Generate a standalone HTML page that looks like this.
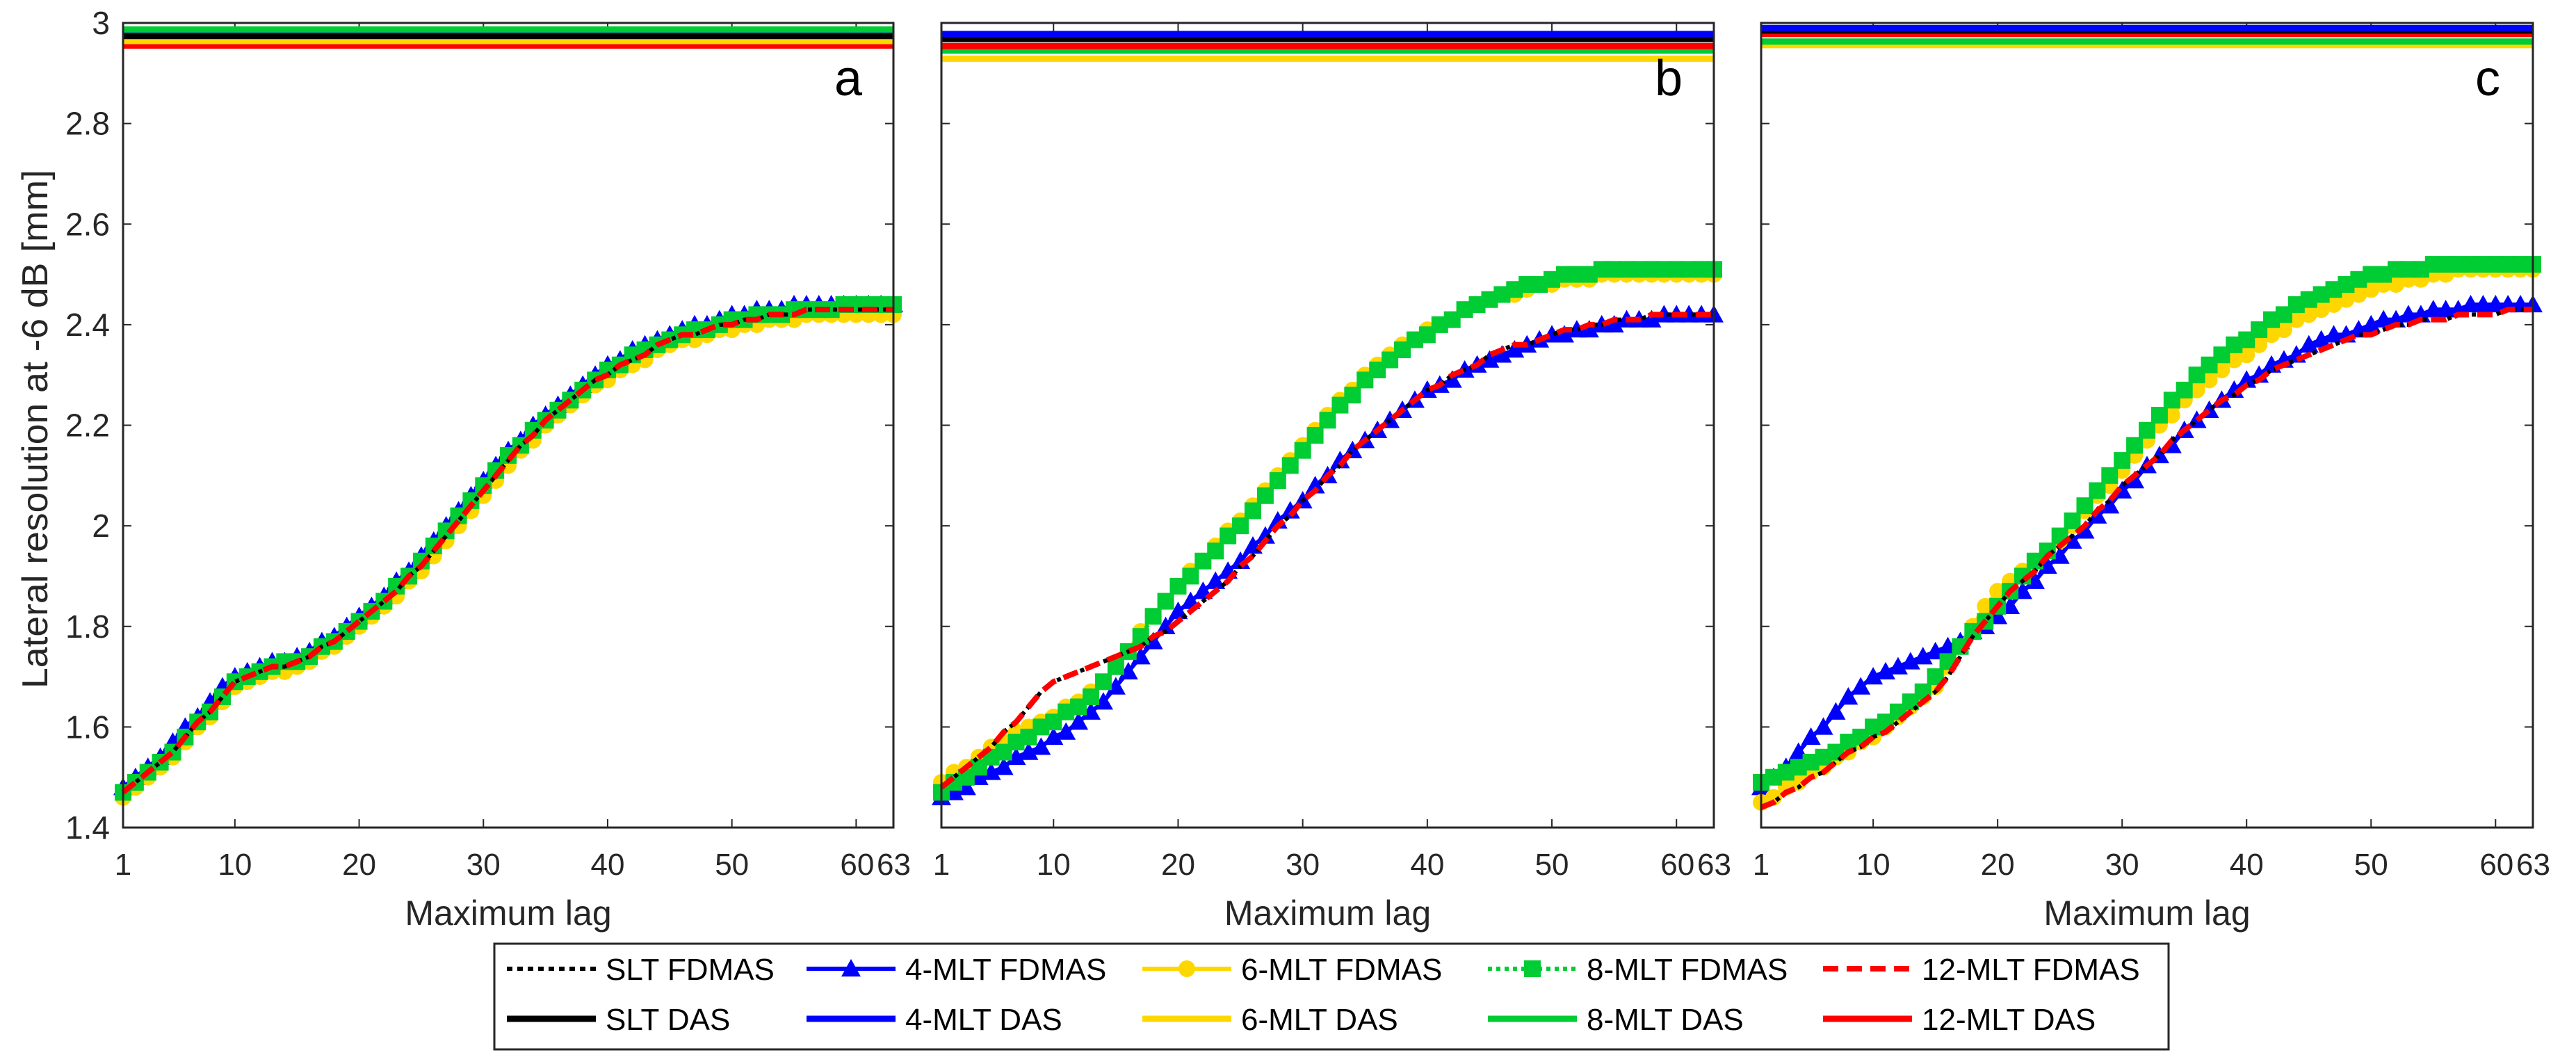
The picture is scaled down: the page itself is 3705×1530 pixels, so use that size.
<!DOCTYPE html>
<html><head><meta charset="utf-8">
<style>
html,body{margin:0;padding:0;background:#fff;}
svg{display:block;font-family:"Liberation Sans",sans-serif;}
</style></head>
<body>
<svg id="chart" width="3705" height="1530" viewBox="0 0 3705 1530" xmlns="http://www.w3.org/2000/svg">
<rect width="3705" height="1530" fill="#fff"/>
<g id="panels"></g>
<text transform="translate(68,617) rotate(-90)" text-anchor="middle" font-size="52" fill="#262626" textLength="746" lengthAdjust="spacingAndGlyphs">Lateral resolution at -6 dB [mm]</text>
<g id="legend"></g>
</svg>
<script>
const lags = Array.from({length:63},(_,i)=>i+1);
const yTicks = [1.4,1.6,1.8,2,2.2,2.4,2.6,2.8,3];
const yTickLabels = ["1.4","1.6","1.8","2","2.2","2.4","2.6","2.8","3"];
const xTicks = [1,10,20,30,40,50,60,63];
const xTickLabels = ["1","10","20","30","40","50","60","63"];
const panelLetters = ["a","b","c"];

// Panel a
const aBlack = [1.47,1.49,1.51,1.53,1.55,1.58,1.61,1.63,1.66,1.69,1.70,1.71,1.72,1.72,1.73,1.74,1.76,1.77,1.79,1.81,1.83,1.85,1.87,1.90,1.92,1.95,1.98,2.01,2.04,2.07,2.10,2.13,2.16,2.18,2.21,2.23,2.25,2.27,2.29,2.30,2.32,2.33,2.34,2.36,2.37,2.38,2.38,2.39,2.40,2.40,2.41,2.41,2.42,2.42,2.42,2.43,2.43,2.43,2.43,2.43,2.43,2.43,2.43];
const aRed = [1.47,1.49,1.51,1.53,1.55,1.58,1.61,1.63,1.66,1.69,1.70,1.71,1.72,1.72,1.73,1.74,1.76,1.77,1.79,1.81,1.83,1.85,1.87,1.90,1.92,1.95,1.98,2.01,2.04,2.07,2.10,2.13,2.16,2.18,2.21,2.23,2.25,2.27,2.29,2.30,2.32,2.33,2.34,2.36,2.37,2.38,2.38,2.39,2.40,2.40,2.41,2.41,2.42,2.42,2.42,2.43,2.43,2.43,2.43,2.43,2.43,2.43,2.43];
const aBlue = [1.48,1.50,1.52,1.54,1.57,1.60,1.62,1.65,1.68,1.70,1.71,1.72,1.73,1.73,1.74,1.75,1.77,1.78,1.80,1.82,1.84,1.86,1.89,1.91,1.94,1.97,2.00,2.03,2.06,2.09,2.12,2.15,2.17,2.20,2.22,2.24,2.26,2.28,2.30,2.32,2.33,2.35,2.36,2.37,2.38,2.39,2.40,2.40,2.41,2.42,2.42,2.43,2.43,2.43,2.44,2.44,2.44,2.44,2.44,2.44,2.44,2.44,2.44];
const aGreen = [1.47,1.49,1.51,1.53,1.55,1.58,1.61,1.63,1.66,1.69,1.70,1.71,1.72,1.73,1.73,1.74,1.76,1.77,1.79,1.81,1.83,1.85,1.88,1.90,1.93,1.96,1.99,2.02,2.05,2.08,2.11,2.14,2.16,2.19,2.21,2.23,2.25,2.27,2.29,2.31,2.32,2.34,2.35,2.36,2.37,2.38,2.39,2.39,2.40,2.41,2.41,2.42,2.42,2.42,2.43,2.43,2.43,2.43,2.44,2.44,2.44,2.44,2.44];
const aYellow = [1.46,1.48,1.50,1.52,1.54,1.57,1.60,1.62,1.65,1.68,1.69,1.70,1.71,1.71,1.72,1.73,1.75,1.76,1.78,1.80,1.82,1.84,1.86,1.89,1.91,1.94,1.97,2.00,2.03,2.06,2.09,2.12,2.15,2.17,2.20,2.22,2.24,2.26,2.28,2.29,2.31,2.32,2.33,2.35,2.36,2.37,2.37,2.38,2.39,2.39,2.40,2.40,2.41,2.41,2.41,2.42,2.42,2.42,2.42,2.42,2.42,2.42,2.42];
// Panel b
const bBlack = [1.48,1.50,1.52,1.54,1.56,1.59,1.61,1.64,1.67,1.69,1.70,1.71,1.72,1.73,1.74,1.75,1.76,1.78,1.79,1.81,1.83,1.85,1.87,1.89,1.92,1.94,1.97,2.00,2.02,2.05,2.07,2.10,2.12,2.15,2.17,2.19,2.21,2.23,2.25,2.27,2.28,2.30,2.31,2.32,2.34,2.35,2.36,2.36,2.37,2.38,2.39,2.39,2.40,2.40,2.41,2.41,2.41,2.42,2.42,2.42,2.42,2.42,2.42];
const bRed = [1.48,1.50,1.52,1.54,1.56,1.59,1.61,1.64,1.67,1.69,1.70,1.71,1.72,1.73,1.74,1.75,1.76,1.78,1.79,1.81,1.83,1.85,1.87,1.89,1.92,1.94,1.97,2.00,2.02,2.05,2.07,2.10,2.12,2.15,2.17,2.19,2.21,2.23,2.25,2.27,2.28,2.30,2.31,2.32,2.34,2.35,2.36,2.36,2.37,2.38,2.39,2.39,2.40,2.40,2.41,2.41,2.41,2.42,2.42,2.42,2.42,2.42,2.42];
const bBlue = [1.46,1.47,1.48,1.50,1.51,1.52,1.54,1.55,1.56,1.58,1.59,1.61,1.63,1.65,1.68,1.71,1.74,1.77,1.80,1.83,1.85,1.87,1.89,1.91,1.93,1.96,1.98,2.01,2.03,2.05,2.08,2.10,2.13,2.15,2.17,2.19,2.21,2.23,2.25,2.27,2.28,2.29,2.31,2.32,2.33,2.34,2.35,2.36,2.37,2.38,2.38,2.39,2.39,2.40,2.40,2.41,2.41,2.41,2.42,2.42,2.42,2.42,2.42];
const bGreen = [1.47,1.49,1.50,1.52,1.54,1.55,1.57,1.58,1.60,1.61,1.63,1.64,1.66,1.69,1.72,1.75,1.78,1.82,1.85,1.88,1.90,1.93,1.95,1.98,2.00,2.03,2.06,2.09,2.12,2.15,2.18,2.21,2.24,2.26,2.29,2.31,2.33,2.35,2.37,2.38,2.40,2.41,2.43,2.44,2.45,2.46,2.47,2.48,2.48,2.49,2.50,2.50,2.50,2.51,2.51,2.51,2.51,2.51,2.51,2.51,2.51,2.51,2.51];
const bYellow = [1.49,1.51,1.52,1.54,1.56,1.57,1.59,1.60,1.61,1.62,1.64,1.65,1.67,1.69,1.72,1.75,1.79,1.82,1.85,1.88,1.91,1.93,1.96,1.99,2.01,2.04,2.07,2.10,2.13,2.16,2.19,2.22,2.25,2.27,2.30,2.32,2.34,2.36,2.37,2.39,2.40,2.41,2.43,2.44,2.45,2.46,2.46,2.47,2.48,2.48,2.49,2.49,2.49,2.50,2.50,2.50,2.50,2.50,2.50,2.50,2.50,2.50,2.50];
// Panel c
const cBlack = [1.44,1.45,1.47,1.48,1.50,1.51,1.53,1.55,1.56,1.58,1.59,1.61,1.63,1.65,1.67,1.70,1.74,1.78,1.81,1.84,1.87,1.89,1.91,1.94,1.96,1.98,2.00,2.03,2.05,2.08,2.10,2.12,2.14,2.17,2.19,2.21,2.23,2.25,2.26,2.28,2.29,2.31,2.32,2.33,2.34,2.35,2.36,2.37,2.38,2.38,2.39,2.40,2.40,2.41,2.41,2.41,2.42,2.42,2.42,2.42,2.43,2.43,2.43];
const cRed = [1.44,1.45,1.47,1.48,1.50,1.51,1.53,1.55,1.56,1.58,1.59,1.61,1.63,1.65,1.67,1.70,1.74,1.78,1.81,1.84,1.87,1.89,1.91,1.94,1.96,1.98,2.00,2.03,2.05,2.08,2.10,2.12,2.14,2.17,2.19,2.21,2.23,2.25,2.26,2.28,2.29,2.31,2.32,2.33,2.34,2.35,2.36,2.37,2.38,2.38,2.39,2.40,2.40,2.41,2.41,2.41,2.42,2.42,2.42,2.42,2.43,2.43,2.43];
const cBlue = [1.48,1.50,1.52,1.55,1.58,1.60,1.63,1.66,1.68,1.70,1.71,1.72,1.73,1.74,1.75,1.76,1.77,1.79,1.80,1.82,1.84,1.87,1.89,1.92,1.94,1.97,1.99,2.02,2.04,2.07,2.09,2.12,2.14,2.16,2.19,2.21,2.23,2.25,2.27,2.29,2.30,2.32,2.33,2.34,2.36,2.37,2.38,2.38,2.39,2.40,2.41,2.41,2.42,2.42,2.43,2.43,2.43,2.44,2.44,2.44,2.44,2.44,2.44];
const cGreen = [1.49,1.50,1.51,1.52,1.53,1.54,1.55,1.57,1.58,1.60,1.61,1.63,1.65,1.67,1.70,1.73,1.76,1.79,1.81,1.84,1.87,1.90,1.93,1.95,1.98,2.01,2.04,2.07,2.10,2.13,2.16,2.19,2.22,2.25,2.27,2.30,2.32,2.34,2.36,2.37,2.39,2.41,2.42,2.44,2.45,2.46,2.47,2.48,2.49,2.50,2.50,2.51,2.51,2.51,2.52,2.52,2.52,2.52,2.52,2.52,2.52,2.52,2.52];
const cYellow = [1.45,1.46,1.48,1.49,1.51,1.52,1.54,1.55,1.57,1.58,1.60,1.62,1.64,1.66,1.68,1.72,1.76,1.80,1.84,1.87,1.89,1.91,1.93,1.95,1.97,2.00,2.03,2.06,2.08,2.11,2.14,2.17,2.20,2.22,2.25,2.27,2.29,2.31,2.33,2.34,2.36,2.38,2.39,2.41,2.42,2.43,2.44,2.45,2.46,2.47,2.48,2.48,2.49,2.49,2.50,2.50,2.51,2.51,2.51,2.51,2.51,2.51,2.51];
// DAS constant values: [SLT, 4-MLT, 6-MLT, 8-MLT, 12-MLT]
const aDasVals = [2.974,2.985,2.964,2.987,2.955];
const bDasVals = [2.968,2.978,2.929,2.945,2.954];
const cDasVals = [2.985,2.990,2.956,2.963,2.978];

const colors = {slt:"#000000",m4:"#0000ff",m6:"#ffd700",m8:"#00cc33",m12:"#ff0000"};
const panelsX = [[177,1285],[1354,2465],[2533,3643]];
const yTop = 33, yBot = 1190, yMin = 1.4, yMax = 3;
const NS = "http://www.w3.org/2000/svg";
function mk(tag, attrs, parent){const e=document.createElementNS(NS,tag);for(const k in attrs)e.setAttribute(k,attrs[k]);parent.appendChild(e);return e;}
function yScale(v){return yBot-(v-yMin)/(yMax-yMin)*(yBot-yTop);}

const panelData = [
 {black:aBlack,red:aRed,blue:aBlue,green:aGreen,yellow:aYellow,das:aDasVals},
 {black:bBlack,red:bRed,blue:bBlue,green:bGreen,yellow:bYellow,das:bDasVals},
 {black:cBlack,red:cRed,blue:cBlue,green:cGreen,yellow:cYellow,das:cDasVals}
];
const root = document.getElementById('panels');

function tri(g,x,y,c){const s=14;const p=mk('polygon',{points:`${x},${y-s} ${x-s},${y+s*0.8} ${x+s},${y+s*0.8}`,fill:c},g);}
function sq(g,x,y,c){const s=12;const r=mk('rect',{x:x-s,y:y-s,width:2*s,height:2*s,fill:c},g);}
function circ(g,x,y,c){const r=mk('circle',{cx:x,cy:y,r:12,fill:c},g);}

panelData.forEach((pd,pi)=>{
  const [x0,x1]=panelsX[pi];
  const xs = v=> x0+(v-1)/62*(x1-x0);
  const g = mk('g',{},root);
  
  
  yTicks.forEach((t,i)=>{
    const y=yScale(t);
    mk('line',{x1:x0,x2:x0+12,y1:y,y2:y,stroke:'#262626','stroke-width':2},g);
    mk('line',{x1:x1,x2:x1-12,y1:y,y2:y,stroke:'#262626','stroke-width':2},g);
    if(pi===0){const tx=mk('text',{x:158,y:y+16,'text-anchor':'end','font-size':46,fill:'#262626'},g);tx.textContent=yTickLabels[i];
      }
  });
  xTicks.forEach((t,i)=>{
    const x=xs(t);
    mk('line',{x1:x,x2:x,y1:yBot,y2:yBot-12,stroke:'#262626','stroke-width':2},g);
    mk('line',{x1:x,x2:x,y1:yTop,y2:yTop+12,stroke:'#262626','stroke-width':2},g);
    let anchor='middle', dx=0;
    if(t===60){anchor='end';dx=26;} if(t===63){anchor='start';dx=-24;}
    const tx=mk('text',{x:x+dx,y:1258,'text-anchor':anchor,'font-size':44,fill:'#262626'},g);tx.textContent=xTickLabels[i];
    
  });
  const xt=mk('text',{x:(x0+x1)/2,y:1330,'text-anchor':'middle','font-size':50,fill:'#262626'},g);xt.textContent='Maximum lag';
  
  const dasColors=[colors.slt,colors.m4,colors.m6,colors.m8,colors.m12];
  [0,1,2,3,4].sort((a,b)=>pd.das[a]-pd.das[b]).forEach(k=>{
    const y=yScale(pd.das[k]);
    const l=mk('line',{x1:x0,x2:x1,y1:y,y2:y,stroke:dasColors[k],'stroke-width':9},g);
    
  });
  const pts = arr => arr.map((v,i)=>xs(lags[i])+','+yScale(v)).join(' ');
  const gb=mk('g',{},g);
  mk('polyline',{points:pts(pd.blue),fill:'none',stroke:colors.m4,'stroke-width':6},gb);
  pd.blue.forEach((v,i)=>tri(gb,xs(lags[i]),yScale(v),colors.m4));
  const gy=mk('g',{},g);
  mk('polyline',{points:pts(pd.yellow),fill:'none',stroke:colors.m6,'stroke-width':6},gy);
  pd.yellow.forEach((v,i)=>circ(gy,xs(lags[i]),yScale(v),colors.m6));
  const gg=mk('g',{},g);
  mk('polyline',{points:pts(pd.green),fill:'none',stroke:colors.m8,'stroke-width':6,'stroke-dasharray':'6 6'},gg);
  pd.green.forEach((v,i)=>sq(gg,xs(lags[i]),yScale(v),colors.m8));
  const gk=mk('polyline',{points:pts(pd.black),fill:'none',stroke:colors.slt,'stroke-width':6,'stroke-dasharray':'6 6'},g);
  
  const gr=mk('polyline',{points:pts(pd.red),fill:'none',stroke:colors.m12,'stroke-width':8,'stroke-dasharray':'22 12'},g);
  
  const bx=mk('rect',{x:x0,y:yTop,width:x1-x0,height:yBot-yTop,fill:'none',stroke:'#262626','stroke-width':3},g);
  
  const lt=mk('text',{x:x1-65,y:137,'text-anchor':'middle','font-size':72,fill:'#000'},g);lt.textContent=panelLetters[pi];
  
});

const lg=document.getElementById('legend');
mk('rect',{x:711,y:1357,width:2408,height:152,fill:'#fff',stroke:'#262626','stroke-width':3},lg);
const legCols=[729,1160,1643,2140,2622];
const legNames=[['SLT FDMAS','4-MLT FDMAS','6-MLT FDMAS','8-MLT FDMAS','12-MLT FDMAS'],['SLT DAS','4-MLT DAS','6-MLT DAS','8-MLT DAS','12-MLT DAS']];
const legColors=[colors.slt,colors.m4,colors.m6,colors.m8,colors.m12];
[1393,1465].forEach((y,r)=>{
  legCols.forEach((x,c)=>{
    const e=mk('g',{},lg);
    
    
    const col=legColors[c];
    let dash='none', w=r===0?6:9;
    if(r===0&&c===0)dash='8 7';
    if(r===0&&c===3)dash='6 6';
    if(r===0&&c===4){dash='22 12';w=8;}
    mk('line',{x1:x,x2:x+128,y1:y,y2:y,stroke:col,'stroke-width':w,'stroke-dasharray':dash},e);
    if(r===0&&c===1)tri(e,x+64,y,col);
    if(r===0&&c===2)circ(e,x+64,y,col);
    if(r===0&&c===3)sq(e,x+64,y,col);
    const t=mk('text',{x:x+142,y:y+16,'font-size':44,fill:'#000'},e);t.textContent=legNames[r][c];
  });
});
</script>
</body></html>
